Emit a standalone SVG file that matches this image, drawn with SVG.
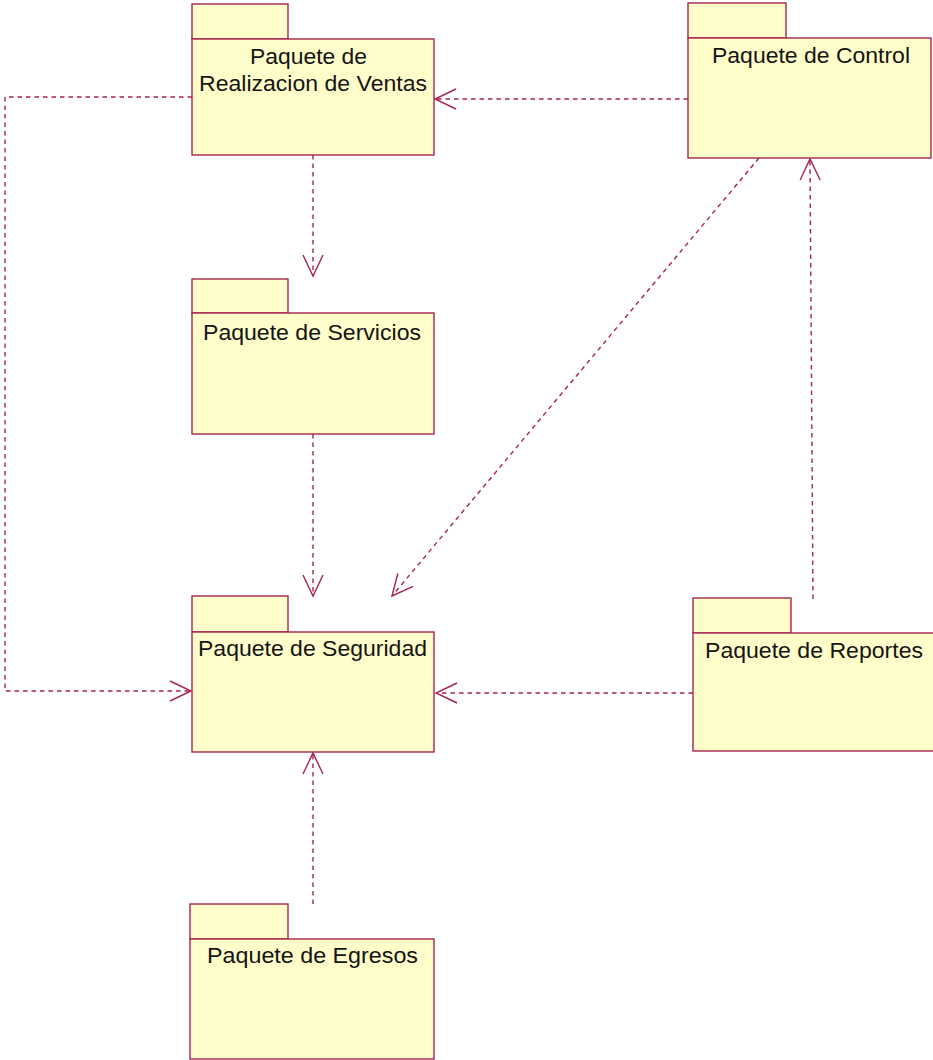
<svg xmlns="http://www.w3.org/2000/svg" width="933" height="1060" viewBox="0 0 933 1060">
<style>
.pkg rect{fill:#fffdc9;stroke:#a8244f;stroke-width:1.4}
.lbl{font-family:"Liberation Sans",Arial,sans-serif;font-size:22px;fill:#141414;text-anchor:middle}
.conn path{fill:none;stroke:#a8244f;stroke-width:1.4;stroke-dasharray:4.5 4}
</style>
<defs>
<marker id="open" viewBox="-23 -12 25 24" refX="0" refY="0" markerWidth="25" markerHeight="24" markerUnits="userSpaceOnUse" orient="auto">
<path d="M-21,-10 L0,0 L-21,10" fill="none" stroke="#a8244f" stroke-width="1.4" stroke-dasharray="none"/>
</marker>
</defs>
<rect width="933" height="1060" fill="#ffffff"/>
<g id="connectors" class="conn">
<path d="M688,99 L435,99" marker-end="url(#open)"/>
<path d="M313,155 L313,276" marker-end="url(#open)"/>
<path d="M313,434 L313,596" marker-end="url(#open)"/>
<path d="M759,158 L392,596" marker-end="url(#open)"/>
<path d="M813,599 L810,159" marker-end="url(#open)"/>
<path d="M693,693 L436,693" marker-end="url(#open)"/>
<path d="M192,97 L5,97 L5,691 L191,691" marker-end="url(#open)"/>
<path d="M313,904 L313,753" marker-end="url(#open)"/>
</g>
<g id="pkg-ventas" class="pkg">
<rect x="192" y="4" width="96" height="35"/>
<rect x="192" y="39" width="242" height="116"/>
<text class="lbl" x="308.5" y="64" textLength="117" lengthAdjust="spacingAndGlyphs">Paquete de</text>
<text class="lbl" x="313" y="91" textLength="228" lengthAdjust="spacingAndGlyphs">Realizacion de Ventas</text>
</g>
<g id="pkg-control" class="pkg">
<rect x="688" y="3" width="98" height="35"/>
<rect x="688" y="38" width="243" height="120"/>
<text class="lbl" x="811" y="63" textLength="198" lengthAdjust="spacingAndGlyphs">Paquete de Control</text>
</g>
<g id="pkg-servicios" class="pkg">
<rect x="192" y="279" width="96" height="34"/>
<rect x="192" y="313" width="242" height="121"/>
<text class="lbl" x="312" y="340" textLength="218" lengthAdjust="spacingAndGlyphs">Paquete de Servicios</text>
</g>
<g id="pkg-seguridad" class="pkg">
<rect x="192" y="596" width="96" height="36"/>
<rect x="192" y="632" width="242" height="120"/>
<text class="lbl" x="312.5" y="656" textLength="229" lengthAdjust="spacingAndGlyphs">Paquete de Seguridad</text>
</g>
<g id="pkg-reportes" class="pkg">
<rect x="693" y="598" width="98" height="35"/>
<rect x="693" y="633" width="242" height="118"/>
<text class="lbl" x="814" y="658" textLength="218" lengthAdjust="spacingAndGlyphs">Paquete de Reportes</text>
</g>
<g id="pkg-egresos" class="pkg">
<rect x="190" y="904" width="98" height="35"/>
<rect x="190" y="939" width="244" height="120"/>
<text class="lbl" x="312.5" y="963" textLength="211" lengthAdjust="spacingAndGlyphs">Paquete de Egresos</text>
</g>
</svg>
